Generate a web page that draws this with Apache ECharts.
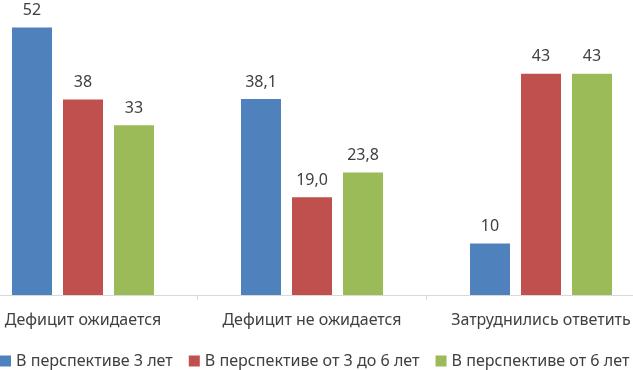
<!DOCTYPE html>
<html>
<head>
<meta charset="utf-8">
<script src="https://cdn.jsdelivr.net/npm/echarts@6/dist/echarts.min.js"></script>
<style>
  html, body { margin: 0; padding: 0; background: #fff; }
  #chart { width: 633px; height: 370px; }
</style>
</head>
<body>
<div id="chart"></div>
<script>
  const categories = ['Дефицит ожидается', 'Дефицит не ожидается', 'Затруднились ответить']
  const seriesNames = ['В перспективе 3 лет', 'В перспективе от 3 до 6 лет', 'В перспективе от 6 лет']
  const values3 = [52, 38.1, 10]
  const values3to6 = [38, 19.0, 43]
  const values6 = [33, 23.8, 43]
  const colors = ['#4f81bd', '#c0504d', '#9bbb59']

  const font = 'Noto Sans'
  const chart = echarts.init(document.getElementById('chart'))

  // средняя категория подписана с одним знаком после запятой
  const fmt = p => p.dataIndex === 1 ? p.value.toFixed(1).replace('.', ',') : String(p.value)

  const makeSeries = (name, data, color) => ({
    name: name,
    type: 'bar',
    data: data,
    barWidth: 40,
    barGap: '27.5%',
    itemStyle: {color: color},
    label: {
      show: true,
      position: 'top',
      distance: 9,
      formatter: fmt,
      color: '#404040',
      fontFamily: font,
      fontSize: 16
    }
  })

  const option = {
    animation: false,
    grid: {left: -31.5, width: 687, top: 12, bottom: 75, outerBoundsMode: 'none'},
    legend: {
      top: 353,
      left: 0,
      width: 720,
      padding: 0,
      itemWidth: 11,
      itemHeight: 11,
      itemGap: 16,
      icon: 'rect',
      textStyle: {color: '#404040', fontFamily: font, fontSize: 16.1},
      data: seriesNames
    },
    xAxis: {
      type: 'category',
      data: categories,
      axisLine: {lineStyle: {color: '#d9d9d9'}},
      axisTick: {show: true, length: 5, lineStyle: {color: '#d9d9d9'}},
      axisLabel: {color: '#404040', fontFamily: font, fontSize: 16, margin: 17, interval: 0}
    },
    yAxis: {
      type: 'value',
      min: 0,
      max: 55,
      show: false,
      splitLine: {show: false}
    },
    series: [
      makeSeries(seriesNames[0], values3, colors[0]),
      makeSeries(seriesNames[1], values3to6, colors[1]),
      makeSeries(seriesNames[2], values6, colors[2])
    ]
  }
  chart.setOption(option)
</script>
</body>
</html>
